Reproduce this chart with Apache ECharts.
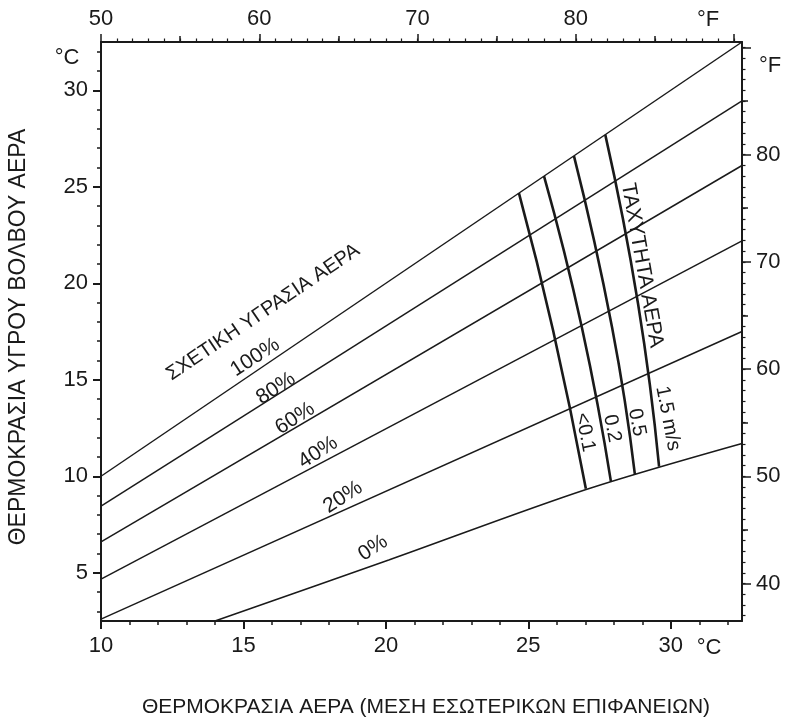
<!DOCTYPE html>
<html>
<head>
<meta charset="utf-8">
<script src="https://cdn.jsdelivr.net/npm/echarts@6/dist/echarts.min.js"></script>
<style>
    html, body { margin: 0; padding: 0; background: #fff; }
    #chart { width: 788px; height: 721px; }
</style>
</head>
<body>
<div id="chart"></div>
<script>
    // ticks (°C bottom/left, °F top/right)
    const cTicks = [10, 15, 20, 25, 30];
    const wbTicks = [5, 10, 15, 20, 25, 30];
    const fTopTicks = [50, 60, 70, 80];
    const fRightTicks = [40, 50, 60, 70, 80];

    // relative humidity lines [air temp °C, wet bulb °C]
    const rh100 = [[10, 10], [32.5, 32.5]];
    const rh80 = [[10, 8.45], [32.5, 29.45]];
    const rh60 = [[10, 6.6], [32.5, 26.1]];
    const rh40 = [[10, 4.67], [32.5, 22.2]];
    const rh20 = [[10, 2.6], [32.5, 17.5]];
    const rh0 = [[14, 2.5], [20.1, 5.66], [27, 9.3], [32.5, 11.7]];
    const rhNames = ['100%', '80%', '60%', '40%', '20%', '0%'];

    // air velocity lines
    const vel01 = [[24.67, 24.67], [25.87, 17.55], [27.02, 9.35]];
    const vel02 = [[25.55, 25.55], [26.88, 17.71], [27.9, 9.72]];
    const vel05 = [[26.6, 26.6], [27.94, 17.71], [28.74, 10.1]];
    const vel15 = [[27.7, 27.7], [28.85, 18.95], [29.59, 10.5]];
    const velNames = ['<0.1', '0.2', '0.5', '1.5 m/s'];

    function range(a, b, step) {
        var out = [];
        for (var v = a; v <= b + 1e-9; v += step) out.push(v);
        return out;
    }

    var FONT = '"Liberation Sans", Arial, sans-serif';
    var INK = '#1a1a1a';

    function tickAxis(extra) {
        return Object.assign({
            type: 'value',
            splitLine: { show: false },
            axisLine: { show: false, onZero: false },
            axisLabel: { show: false },
            axisTick: { show: true, inside: false, length: 4, lineStyle: { color: INK, width: 1.5 } }
        }, extra);
    }

    var option = {
        animation: false,
        backgroundColor: '#fff',
        grid: { left: 101, right: 46, top: 42, bottom: 100, outerBoundsMode: 'none' },
        xAxis: [
            tickAxis({
                position: 'bottom', min: 10, max: 32.5,
                axisLine: { show: true, onZero: false, lineStyle: { color: INK, width: 2 } },
                axisTick: { show: true, length: 8, customValues: cTicks, lineStyle: { color: INK, width: 2 } },
                axisLabel: { show: true, customValues: cTicks, fontSize: 22, fontFamily: FONT, color: INK, margin: 14 }
            }),
            tickAxis({ position: 'bottom', min: 10, max: 32.5,
                axisTick: { show: true, length: 4, customValues: range(11, 32, 1), lineStyle: { color: INK, width: 1.5 } } }),
            tickAxis({
                position: 'top', min: 50, max: 90.5,
                axisLine: { show: true, onZero: false, lineStyle: { color: INK, width: 2 } },
                axisTick: { show: true, length: 8, customValues: [50, 60, 70, 80, 90], lineStyle: { color: INK, width: 1.5 } },
                axisLabel: { show: true, customValues: fTopTicks, fontSize: 22, fontFamily: FONT, color: INK, margin: 12 }
            }),
            tickAxis({ position: 'top', min: 50, max: 90.5,
                axisTick: { show: true, length: 6, customValues: [55, 65, 75, 85], lineStyle: { color: INK, width: 1.5 } } }),
            tickAxis({ position: 'top', min: 50, max: 90.5,
                axisTick: { show: true, length: 3.5, customValues: range(51, 90, 1), lineStyle: { color: INK, width: 1.2 } } })
        ],
        yAxis: [
            tickAxis({
                position: 'left', min: 2.5, max: 32.5,
                axisLine: { show: true, onZero: false, lineStyle: { color: INK, width: 2 } },
                axisTick: { show: true, length: 8, customValues: wbTicks, lineStyle: { color: INK, width: 2 } },
                axisLabel: { show: true, customValues: wbTicks, fontSize: 22, fontFamily: FONT, color: INK, margin: 13 }
            }),
            tickAxis({ position: 'left', min: 2.5, max: 32.5,
                axisTick: { show: true, length: 4, customValues: range(3, 32, 1), lineStyle: { color: INK, width: 1.5 } } }),
            tickAxis({
                position: 'right', min: 36.5, max: 90.5,
                axisLine: { show: true, onZero: false, lineStyle: { color: INK, width: 2 } },
                axisTick: { show: true, length: 9, customValues: [40, 50, 60, 70, 80, 90], lineStyle: { color: INK, width: 1.5 } },
                axisLabel: { show: true, customValues: fRightTicks, fontSize: 22, fontFamily: FONT, color: INK, margin: 14 }
            }),
            tickAxis({ position: 'right', min: 36.5, max: 90.5,
                axisTick: { show: true, length: 6, customValues: [45, 55, 65, 75, 85], lineStyle: { color: INK, width: 1.5 } } }),
            tickAxis({ position: 'right', min: 36.5, max: 90.5,
                axisTick: { show: true, length: 3.5, customValues: range(37, 90, 1), lineStyle: { color: INK, width: 1.2 } } })
        ],
        series: []
    };

    [rh100, rh80, rh60, rh40, rh20, rh0].forEach(function (d, i) {
        option.series.push({
            name: rhNames[i], type: 'line', data: d, symbol: 'none', silent: true,
            smooth: i === 5 ? 0.3 : false,
            lineStyle: { color: INK, width: 1.5 }
        });
    });
    [vel01, vel02, vel05, vel15].forEach(function (d, i) {
        option.series.push({
            name: velNames[i], type: 'line', data: d, symbol: 'none', silent: true, smooth: 0.5,
            lineStyle: { color: INK, width: 2.6 }
        });
    });

    var chart = echarts.init(document.getElementById('chart'));
    chart.setOption(option);

    // annotations, anchored in data coordinates
    function toPx(p) { return chart.convertToPixel({ xAxisIndex: 0, yAxisIndex: 0 }, p); }
    function txt(text, pos, rotDeg, size) {
        return {
            type: 'text', x: pos[0], y: pos[1], rotation: rotDeg * Math.PI / 180, silent: true,
            style: {
                text: text, fill: INK, fontSize: size, fontFamily: FONT,
                align: 'center', verticalAlign: 'middle', textAlign: 'center', textVerticalAlign: 'middle'
            }
        };
    }

    var rhLabelAt = [[15.41, 16.16], [16.14, 14.55], [16.81, 13.0], [17.62, 11.24], [18.49, 8.91], [19.55, 6.28]];
    var velLabelAt = [[26.99, 12.28], [27.94, 12.48], [28.81, 12.79], [29.9, 13.0]];

    var graphics = [];
    rhNames.forEach(function (n, i) { graphics.push(txt(n, toPx(rhLabelAt[i]), 33, 21)); });
    graphics.push(txt('ΣΧΕΤΙΚΗ ΥΓΡΑΣΙΑ ΑΕΡΑ', toPx([15.69, 18.49]), 34, 20));
    velNames.forEach(function (n, i) { graphics.push(txt(n, toPx(velLabelAt[i]), -79, 20)); });
    graphics.push(txt('ΤΑΧΥΤΗΤΑ ΑΕΡΑ', toPx([28.99, 20.92]), -80, 21));

    // units and axis titles
    graphics.push(txt('°C', [67, 58], 0, 22));
    graphics.push(txt('°F', [770, 66], 0, 22));
    graphics.push(txt('°F', [708, 20], 0, 22));
    graphics.push(txt('°C', [709, 648], 0, 22));
    graphics.push(txt('ΘΕΡΜΟΚΡΑΣΙΑ ΥΓΡΟΥ ΒΟΛΒΟΥ ΑΕΡΑ', [19, 337], 90, 23));
    graphics.push(txt('ΘΕΡΜΟΚΡΑΣΙΑ ΑΕΡΑ (ΜΕΣΗ ΕΣΩΤΕΡΙΚΩΝ ΕΠΙΦΑΝΕΙΩΝ)', [426, 707], 0, 21));

    chart.setOption({ graphic: graphics });

    window.addEventListener('resize', function () { chart.resize(); });
</script>
</body>
</html>
